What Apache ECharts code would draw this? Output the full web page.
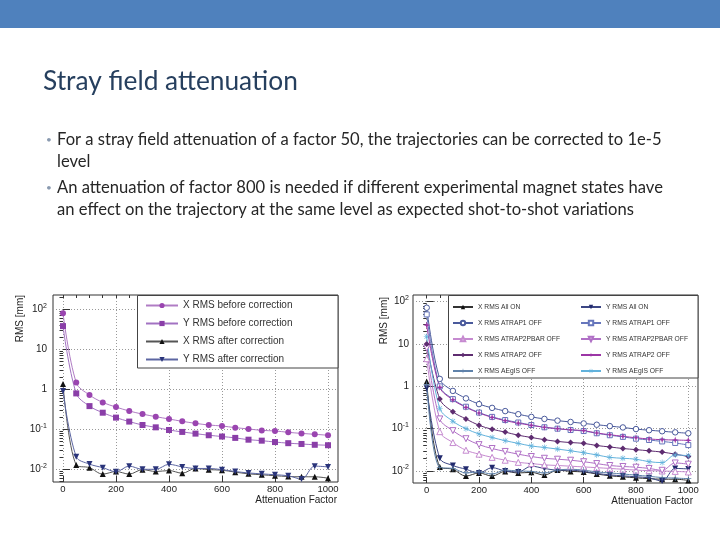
<!DOCTYPE html>
<html><head><meta charset="utf-8">
<script src="https://cdn.jsdelivr.net/npm/echarts@6/dist/echarts.min.js"></script>
<style>html,body{margin:0;padding:0;background:#fff}#c{width:720px;height:540px}</style>
</head><body><div id="c"></div>
<script>
// ---------- text ----------
const titleText = 'Stray field attenuation';
const bulletLines = [
  'For a stray field attenuation of a factor 50, the trajectories can be corrected to 1e-5',
  'level',
  'An attenuation of factor 800 is needed if different experimental magnet states have',
  'an effect on the trajectory at the same level as expected shot-to-shot variations'
];
const axisNameX = 'Attenuation Factor';
const axisNameY = 'RMS [mm]';

// ---------- axes ----------
const xValues = [0,50,100,150,200,250,300,350,400,450,500,550,600,650,700,750,800,850,900,950,1000];
const xTickLabels = [0,200,400,600,800,1000];
const xMinorTicks = [0,50,100,150,200,250,300,350,400,450,500,550,600,650,700,750,800,850,900,950,1000];
const yTickValues = [0.01,0.1,1,10,100];
const yMinorTicks = [0.005,0.006,0.007,0.008,0.009,0.02,0.03,0.04,0.05,0.06,0.07,0.08,0.09,
  0.2,0.3,0.4,0.5,0.6,0.7,0.8,0.9,2,3,4,5,6,7,8,9,20,30,40,50,60,70,80,90,200];

// ---------- left chart ----------
const leftNames = ['X RMS before correction','Y RMS before correction','X RMS after correction','Y RMS after correction'];
const xRmsBefore = [80,1.47,0.72,0.47,0.36,0.287,0.24,0.207,0.181,0.158,0.141,0.128,0.121,0.11,0.102,0.094,0.091,0.084,0.079,0.075,0.071];
const yRmsBefore = [38,0.79,0.38,0.26,0.196,0.156,0.128,0.112,0.096,0.086,0.078,0.071,0.066,0.061,0.055,0.052,0.048,0.045,0.043,0.041,0.04];
const xRmsAfter  = [1.36,0.0128,0.011,0.0076,0.0088,0.0076,0.0098,0.0088,0.0093,0.008,0.0105,0.0098,0.0095,0.0085,0.0077,0.0073,0.0069,0.0066,0.0065,0.0065,0.006];
const yRmsAfter  = [0.91,0.0207,0.0135,0.011,0.0087,0.012,0.01,0.01,0.0133,0.0115,0.0105,0.0105,0.0098,0.0088,0.0081,0.0077,0.0073,0.0069,0.0057,0.012,0.0115];

// ---------- right chart ----------
const rightXNames = ['X RMS All ON','X RMS ATRAP1 OFF','X RMS ATRAP2PBAR OFF','X RMS ATRAP2 OFF','X RMS AEgIS OFF'];
const rightYNames = ['Y RMS All ON','Y RMS ATRAP1 OFF','Y RMS ATRAP2PBAR OFF','Y RMS ATRAP2 OFF','Y RMS AEgIS OFF'];
const xAllOn       = [1.3,0.0125,0.011,0.0076,0.009,0.0076,0.0098,0.009,0.0093,0.008,0.0105,0.0098,0.0095,0.0085,0.0077,0.0073,0.0069,0.0066,0.0064,0.0064,0.006];
const yAllOn       = [0.9,0.02,0.0135,0.011,0.009,0.012,0.01,0.0095,0.013,0.0115,0.0105,0.0105,0.0098,0.0088,0.0081,0.0077,0.0073,0.0069,0.0058,0.0115,0.0112];
const xAtrap1Off   = [72,1.5,0.78,0.52,0.38,0.31,0.26,0.22,0.19,0.17,0.155,0.144,0.133,0.124,0.115,0.107,0.098,0.092,0.087,0.082,0.078];
const yAtrap1Off   = [50,1.0,0.5,0.33,0.24,0.19,0.16,0.14,0.122,0.108,0.1,0.093,0.088,0.078,0.07,0.064,0.058,0.054,0.05,0.046,0.041];
const xAtrap2pbarOff = [4.5,0.085,0.047,0.031,0.025,0.021,0.018,0.016,0.015,0.014,0.0135,0.013,0.0125,0.012,0.0115,0.011,0.0105,0.0102,0.01,0.0098,0.0095];
const yAtrap2pbarOff = [8,0.17,0.09,0.058,0.042,0.034,0.029,0.025,0.022,0.02,0.019,0.018,0.0166,0.015,0.0135,0.0128,0.0123,0.0115,0.0104,0.0155,0.0145];
const xAtrap2Off   = [10,0.5,0.25,0.17,0.12,0.097,0.083,0.07,0.062,0.055,0.05,0.047,0.045,0.04,0.037,0.034,0.032,0.03,0.028,0.025,0.022];
const yAtrap2Off   = [28,0.95,0.48,0.32,0.235,0.185,0.155,0.135,0.12,0.108,0.1,0.094,0.09,0.079,0.072,0.066,0.061,0.057,0.055,0.054,0.053];
const xAegisOff    = [1.1,0.012,0.0115,0.009,0.0095,0.0085,0.0105,0.01,0.0098,0.009,0.0105,0.011,0.0105,0.0095,0.009,0.0085,0.008,0.0075,0.007,0.0068,0.0066];
const yAegisOff    = [15,0.3,0.15,0.1,0.075,0.062,0.052,0.045,0.039,0.036,0.033,0.03,0.027,0.024,0.021,0.02,0.019,0.0166,0.0158,0.024,0.023];

// ---------- helpers ----------
const FONT = 'Liberation Sans';
const ctx = document.createElement('canvas').getContext('2d');
function fit(text, family, w) { ctx.font = '100px "' + family + '"'; return 100 * w / ctx.measureText(text).width; }
const titleSize = fit(titleText, 'Lato', 255);
const bodySize = fit(bulletLines[0], 'Lato', 605);

function pts(vals) { return xValues.map((x, i) => [x, vals[i]]); }
function mk(name, vals, g, color, lineColor, symbol, size, extra) {
  return Object.assign({
    name, type: 'line', xAxisIndex: g * 2, yAxisIndex: g * 2, data: pts(vals),
    smooth: 0.35, symbol, symbolSize: size, showSymbol: true, symbolKeepAspect: true,
    lineStyle: { color: lineColor, width: 1 },
    itemStyle: { color: color, borderWidth: 0 },
    emphasis: { disabled: true }, animation: false
  }, extra || {});
}
function hollow(c) { return { itemStyle: { color: '#ffffff', borderColor: c, borderWidth: 1 } }; }
const STAR4 = 'path://M5,0 L6.2,3.8 L10,5 L6.2,6.2 L5,10 L3.8,6.2 L0,5 L3.8,3.8 Z';
const PLUS = 'path://M4.4,0 H5.6 V4.4 H10 V5.6 H5.6 V10 H4.4 V5.6 H0 V4.4 H4.4 Z';
const ASTER = 'path://M4.5,0 H5.5 V3.8 L8.3,1 L9,1.7 L6.2,4.5 H10 V5.5 H6.2 L9,8.3 L8.3,9 L5.5,6.2 V10 H4.5 V6.2 L1.7,9 L1,8.3 L3.8,5.5 H0 V4.5 H3.8 L1,1.7 L1.7,1 L4.5,3.8 Z';

function yLabelFmt(v) {
  const e = Math.round(Math.log10(v));
  if (e === 0) return '1';
  if (e === 1) return '10';
  return '{b|10}{s|' + e + '}';
}
function xAxes(min, max, grid) {
  return [{
    type: 'value', gridIndex: grid, min, max,
    axisLine: { show: false },
    axisTick: { show: true, inside: true, length: 6, customValues: xTickLabels, lineStyle: { color: '#333' } },
    axisLabel: { show: true, customValues: xTickLabels, margin: 2, fontSize: 9.5, color: '#222', fontFamily: FONT,
      formatter: v => String(v) },
    splitLine: { show: true, lineStyle: { type: [1, 2], color: '#999', width: 1 } }
  }, {
    type: 'value', gridIndex: grid, min, max,
    axisLine: { show: false },
    axisTick: { show: true, inside: true, length: 3, customValues: xMinorTicks, lineStyle: { color: '#333' } },
    axisLabel: { show: false }, splitLine: { show: false }
  }];
}
function yAxes(min, max, grid, margin) {
  return [{
    type: 'log', logBase: 10, gridIndex: grid, min, max,
    axisLine: { show: false },
    axisTick: { show: true, inside: true, length: 7, customValues: yTickValues, lineStyle: { color: '#333' } },
    axisLabel: {
      show: true, customValues: yTickValues, margin, fontSize: 10, color: '#222', fontFamily: FONT,
      formatter: yLabelFmt,
      rich: { b: { fontSize: 10, lineHeight: 14, color: '#222', fontFamily: FONT },
              s: { fontSize: 7, lineHeight: 8, verticalAlign: 'top', color: '#222', fontFamily: FONT } }
    },
    splitLine: { show: true, lineStyle: { type: [1, 2], color: '#999', width: 1 } }
  }, {
    type: 'log', logBase: 10, gridIndex: grid, min, max,
    axisLine: { show: false },
    axisTick: { show: true, inside: true, length: 3.5, customValues: yMinorTicks, lineStyle: { color: '#333' } },
    axisLabel: { show: false }, splitLine: { show: false }
  }];
}

const series = [
  mk(leftNames[0], xRmsBefore, 0, '#9a45b0', '#b07cc4', 'circle', 6),
  mk(leftNames[1], yRmsBefore, 0, '#8a3ea8', '#a272c2', 'rect', 6),
  mk(leftNames[2], xRmsAfter, 0, '#111111', '#555555', 'triangle', 6),
  mk(leftNames[3], yRmsAfter, 0, '#2a347a', '#5c66a2', 'triangle', 6, { symbolRotate: 180 }),

  mk(rightXNames[0], xAllOn, 1, '#111111', '#333333', 'triangle', 6),
  mk(rightYNames[0], yAllOn, 1, '#222a6e', '#3c4684', 'triangle', 6, { symbolRotate: 180 }),
  mk(rightXNames[1], xAtrap1Off, 1, '#4a5a9c', '#4a5a9c', 'circle', 5.5, hollow('#4a5a9c')),
  mk(rightYNames[1], yAtrap1Off, 1, '#6676bc', '#6676bc', 'rect', 5, hollow('#6676bc')),
  mk(rightXNames[2], xAtrap2pbarOff, 1, '#c68ad0', '#c68ad0', 'triangle', 6, hollow('#c68ad0')),
  mk(rightYNames[2], yAtrap2pbarOff, 1, '#b070c6', '#b070c6', 'triangle', 6, Object.assign({ symbolRotate: 180 }, hollow('#b070c6'))),
  mk(rightXNames[3], xAtrap2Off, 1, '#5e2c70', '#5e2c70', 'diamond', 6),
  mk(rightYNames[3], yAtrap2Off, 1, '#9c36a6', '#9c36a6', STAR4, 7),
  mk(rightXNames[4], xAegisOff, 1, '#5f82aa', '#5f82aa', PLUS, 6),
  mk(rightYNames[4], yAegisOff, 1, '#62b2dc', '#62b2dc', ASTER, 6)
];

const legendBase = {
  orient: 'vertical', backgroundColor: 'transparent', borderWidth: 0, selectedMode: false, z: 5
};
const nameStyle = { fontSize: 10, fontFamily: FONT, fill: '#222' };

const option = {
  animation: false,
  backgroundColor: '#ffffff',
  grid: [
    { left: 53, top: 295, width: 285, height: 187, show: true, borderColor: '#333', borderWidth: 1, backgroundColor: 'transparent' },
    { left: 413, top: 295, width: 285, height: 188, show: true, borderColor: '#333', borderWidth: 1, backgroundColor: 'transparent' }
  ],
  xAxis: [...xAxes(-37.7, 1037.7, 0), ...xAxes(-52.4, 1037.1, 1)],
  yAxis: [...yAxes(0.004815, 227.8, 0, 6), ...yAxes(0.00521, 143.9, 1, 4)],
  legend: [
    Object.assign({}, legendBase, { data: leftNames, left: 137, top: 295, padding: [5.5, 4, 4, 8],
      itemWidth: 32, itemHeight: 6.5, itemGap: 8,
      textStyle: { fontSize: 10, color: '#333', fontFamily: FONT } }),
    Object.assign({}, legendBase, { data: rightXNames, left: 448, top: 295, padding: [8.5, 4, 3, 4],
      itemWidth: 20, itemHeight: 5.5, itemGap: 9,
      textStyle: { fontSize: 6.7, color: '#333', fontFamily: FONT } }),
    Object.assign({}, legendBase, { data: rightYNames, left: 576, top: 295, padding: [8.5, 4, 3, 4],
      itemWidth: 20, itemHeight: 5.5, itemGap: 9,
      textStyle: { fontSize: 6.7, color: '#333', fontFamily: FONT } })
  ],
  graphic: [
    { type: 'rect', shape: { x: 0, y: 0, width: 720, height: 28 }, style: { fill: '#4f81bd' }, z: 1 },
    { type: 'text', x: 43, y: 82, style: { text: titleText, fontSize: titleSize, fontFamily: 'Lato', fill: '#263f5e', verticalAlign: 'middle' } },
    { type: 'text', x: 46, y: 140, style: { text: '•', fontSize: 10, fontFamily: 'Lato', fill: '#8a9ab0', verticalAlign: 'middle' } },
    { type: 'text', x: 57, y: 140, style: { text: bulletLines[0], fontSize: bodySize, fontFamily: 'Lato', fill: '#262626', verticalAlign: 'middle' } },
    { type: 'text', x: 57, y: 162, style: { text: bulletLines[1], fontSize: bodySize, fontFamily: 'Lato', fill: '#262626', verticalAlign: 'middle' } },
    { type: 'text', x: 46, y: 188, style: { text: '•', fontSize: 10, fontFamily: 'Lato', fill: '#8a9ab0', verticalAlign: 'middle' } },
    { type: 'text', x: 57, y: 188, style: { text: bulletLines[2], fontSize: bodySize, fontFamily: 'Lato', fill: '#262626', verticalAlign: 'middle' } },
    { type: 'text', x: 57, y: 210, style: { text: bulletLines[3], fontSize: bodySize, fontFamily: 'Lato', fill: '#262626', verticalAlign: 'middle' } },
    // axis names
    { type: 'text', x: 337, y: 500, style: Object.assign({ text: axisNameX, align: 'right', verticalAlign: 'middle' }, nameStyle) },
    { type: 'text', x: 693, y: 501, style: Object.assign({ text: axisNameX, align: 'right', verticalAlign: 'middle' }, nameStyle) },
    { type: 'text', x: 20, y: 295, rotation: Math.PI / 2, style: Object.assign({ text: axisNameY, align: 'right', verticalAlign: 'middle' }, nameStyle) },
    { type: 'text', x: 384, y: 297, rotation: Math.PI / 2, style: Object.assign({ text: axisNameY, align: 'right', verticalAlign: 'middle' }, nameStyle) },
    // legend boxes
    { type: 'rect', shape: { x: 137.5, y: 295.5, width: 200.5, height: 72.5 }, style: { fill: '#fff', stroke: '#444', lineWidth: 1 }, z: 4 },
    { type: 'rect', shape: { x: 448.5, y: 295.5, width: 249.5, height: 82.5 }, style: { fill: '#fff', stroke: '#444', lineWidth: 1 }, z: 4 }
  ],
  series
};

const chart = echarts.init(document.getElementById('c'), null, { renderer: 'canvas' });
chart.setOption(option);
</script>
</body></html>
